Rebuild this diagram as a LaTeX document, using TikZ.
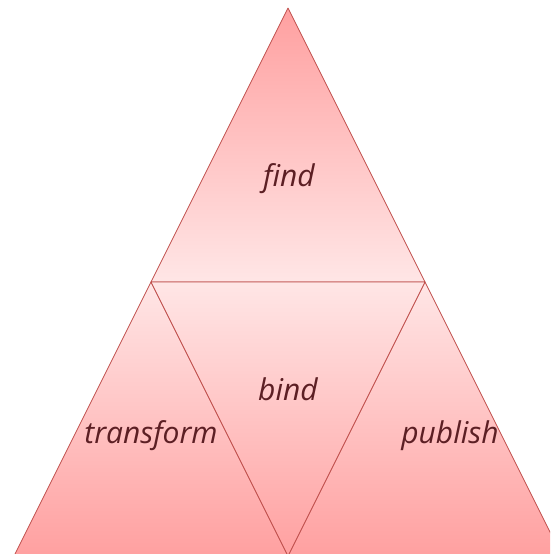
\documentclass[tikz,border=0pt]{standalone}
\usepackage{fontspec}
\setmainfont[Ligatures=NoCommon]{Open Sans}
\usetikzlibrary{positioning}
\definecolor{tredge}{HTML}{C0504D}
\definecolor{trdark}{HTML}{FFA0A0}
\definecolor{trlight}{HTML}{FFE6E6}
\definecolor{trtext}{HTML}{5C1F24}

\begin{document}
\begin{tikzpicture}[x=1pt,y=-1pt,
    part/.style={draw=tredge,line width=0.8pt,line join=round},
    down/.style={part,top color=trdark,bottom color=trlight},
    up/.style={part,top color=trlight,bottom color=trdark},
    word/.style={text=trtext,anchor=base,inner sep=0pt,
      font=\fontsize{30}{36}\selectfont\itshape}
  ]
    \useasboundingbox (0,0) rectangle (550,554);
    \clip (0,0) rectangle (550,554);
    \coordinate (apex) at (288,8);
    \coordinate (bl) at (14,556);
    \coordinate (br) at (562,556);
    \coordinate (ml) at (151,282);
    \coordinate (mr) at (425,282);
    \coordinate (mb) at (288,556);
    \path[down] (apex)--(mr)--(ml)--cycle;
    \path[up] (ml)--(mb)--(bl)--cycle;
    \path[up] (mr)--(br)--(mb)--cycle;
    \path[up] (ml)--(mr)--(mb)--cycle;
    \node[word] (find) at (289,186) {find};
    \node[word] (bind) at (288,400) {bind};
    \node[word] (transform) at (151,443) {transform};
    \node[word] (publish) at (450,443) {publish};
  \end{tikzpicture}
\end{document}
